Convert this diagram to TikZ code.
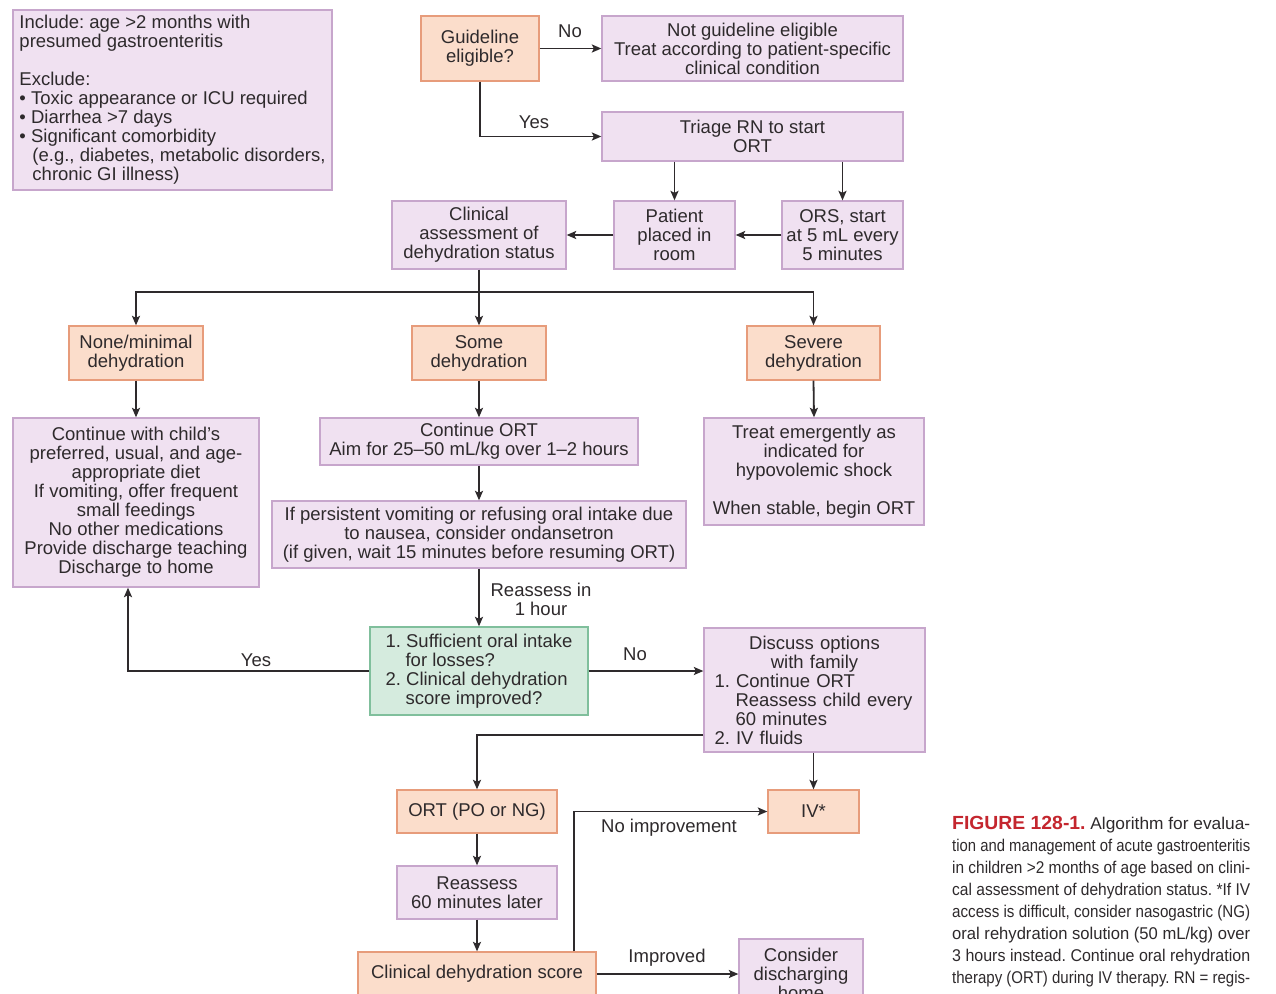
\documentclass[tikz,border=0pt]{standalone}
\usepackage{fontspec}
\setmainfont{Liberation Sans}
\usepackage{graphicx}
\usetikzlibrary{arrows.meta}
\definecolor{pfill}{HTML}{F0E1F1}
\definecolor{pdraw}{HTML}{C7A6CC}
\definecolor{ofill}{HTML}{FBDDCB}
\definecolor{odraw}{HTML}{E79C7B}
\definecolor{gfill}{HTML}{D5EBDE}
\definecolor{gdraw}{HTML}{80BF9C}
\definecolor{txt}{HTML}{2E2A2C}
\definecolor{capred}{HTML}{C4262E}
\newcommand\mybox[7]{\node[#2, minimum width={(#5-#3)*1pt}, minimum height={(#6-#4)*1pt}] (#1) at ({(#3+#5)/2},{(#4+#6)/2}) {#7};}
\newcommand\capfont{\fontsize{17}{22}\selectfont}
\frenchspacing
\begin{document}
\frenchspacing
\begin{tikzpicture}[x=1pt,y=-1pt,
  font=\frenchspacing\fontsize{18.5}{19}\selectfont, text=txt,
  bx/.style={draw, line width=1.3pt, inner sep=0pt, align=center},
  pb/.style={bx, fill=pfill, draw=pdraw},
  ob/.style={bx, fill=ofill, draw=odraw},
  gb/.style={bx, fill=gfill, draw=gdraw},
  arr/.style={line width=1.8pt, draw=txt, -{Stealth[length=9.5pt,width=8pt,inset=2pt]}},
  ln/.style={line width=1.8pt, draw=txt},
  lbl/.style={inner sep=0pt, align=center},
  capl/.style={anchor=base west, inner sep=0pt}]
\useasboundingbox (0,0) rectangle (1276,993);
\fill[white] (0,0) rectangle (1276,993);
\clip (0,0) rectangle (1276,993);

% boxes
\node[pb, align=left, inner sep=0pt, minimum width=319pt, minimum height=180pt] (incl) at (172.5,100) {Include: age >2 months with\\presumed gastroenteritis\\[19pt]Exclude:\\• Toxic appearance or ICU required\\• Diarrhea >7 days\\• Significant comorbidity\\\hspace*{13pt}(e.g., diabetes, metabolic disorders,\\\hspace*{13pt}chronic GI illness)};
\mybox{guide}{ob}{421}{16}{539}{81}{Guideline\\eligible?}
\mybox{notel}{pb}{602}{16}{903}{81}{Not guideline eligible\\Treat according to patient-specific\\clinical condition}
\mybox{triage}{pb}{602}{112}{903}{161}{Triage RN to start\\ORT}
\mybox{clin}{pb}{392}{201}{566}{269}{Clinical\\assessment of\\dehydration status}
\mybox{patient}{pb}{614}{201}{735}{269}{Patient\\placed in\\room}
\mybox{ors}{pb}{782}{201}{903}{269}{ORS, start\\at 5 mL every\\5 minutes}
\mybox{none}{ob}{69}{326}{203}{380}{None/minimal\\dehydration}
\mybox{some}{ob}{412}{326}{546}{380}{Some\\dehydration}
\mybox{severe}{ob}{747}{326}{880}{380}{Severe\\dehydration}
\mybox{cont}{pb}{13}{418}{259}{587}{Continue with child's\\preferred, usual, and age-\\appropriate diet\\If vomiting, offer frequent\\small feedings\\No other medications\\Provide discharge teaching\\Discharge to home}
\mybox{cort}{pb}{320}{418}{638}{465}{Continue ORT\\Aim for 25--50 mL/kg over 1--2 hours}
\mybox{treat}{pb}{704}{418}{924}{525}{Treat emergently as\\indicated for\\hypovolemic shock\\[19pt]When stable, begin ORT}
\mybox{persist}{pb}{272}{501}{686}{568}{If persistent vomiting or refusing oral intake due\\to nausea, consider ondansetron\\(if given, wait 15 minutes before resuming ORT)}
\mybox{green}{gb, align=left}{370}{627}{588}{715}{1. Sufficient oral intake\\\hspace*{20pt}for losses?\\2. Clinical dehydration\\\hspace*{20pt}score improved?}
\mybox{disc}{pb, align=left, text width=200pt}{704}{628}{925}{752}{\makebox[\linewidth]{Discuss options}\\\makebox[\linewidth]{with family}\\1. Continue ORT\\\hspace*{21pt}Reassess child every\\\hspace*{21pt}60 minutes\\2. IV fluids}
\mybox{ortpo}{ob}{397}{790}{557}{833}{ORT (PO or NG)}
\mybox{iv}{ob}{768}{790}{859}{833}{IV*}
\mybox{reass}{pb}{397}{866}{557}{919}{Reassess\\60 minutes later}
\mybox{score}{ob}{358}{952}{596}{996}{Clinical dehydration score}
\mybox{consider}{pb}{739}{939}{863}{1009}{Consider\\discharging\\home}

% connectors
\draw[arr] (guide.east) -- (notel.west);
\draw[arr] (guide.south) |- (triage.west);
\draw[arr] (triage.south -| patient.north) -- (patient.north);
\draw[arr] (triage.south -| ors.north) -- (ors.north);
\draw[arr] (ors.west) -- (patient.east);
\draw[arr] (patient.west) -- (clin.east);
\coordinate (brlevel) at (0,292);
\coordinate (br) at (clin.south |- brlevel);
\draw[ln] (clin.south) -- (br);
\draw[arr] (br) -| (none.north);
\draw[arr] (br) -| (severe.north);
\draw[arr] (br) -- (some.north);
\draw[arr] (none.south) -- (cont.north);
\draw[arr] (some.south) -- (cort.north);
\draw[arr] (severe.south) -- (treat.north);
\draw[arr] (cort.south) -- (persist.north);
\draw[arr] (persist.south) -- (green.north);
\draw[arr] (green.west) -| ([xshift=-8pt]cont.south);
\draw[arr] (green.east) -- (green.east -| disc.west);
\draw[arr] ([yshift=18pt]disc.south west) -| (ortpo.north);
\draw[arr] (disc.south -| iv.north) -- (iv.north);
\draw[arr] (ortpo.south) -- (reass.north);
\draw[arr] (reass.south) -- (score.north);
\draw[arr] ([xshift=97pt]score.north) |- (iv.west);
\draw[arr] (score.east) -- (score.east -| consider.west);

% labels
\node[lbl] (lno1) at (570,31) {No};
\node[lbl] (lyes1) at (534,122) {Yes};
\node[lbl] (lreass) at (541,599.5) {Reassess in\\1 hour};
\node[lbl] (lyes2) at (256,660) {Yes};
\node[lbl] (lno2) at (635,654) {No};
\node[lbl] (lnoimp) at (669,828) {No improvement};
\node[lbl] (limp) at (667,958) {Improved};

% caption
\node[capl] (cap1) at (952,829) {\resizebox{298pt}{\height}{\capfont{\fontsize{19}{22}\selectfont\bfseries\color{capred}FIGURE 128-1.} Algorithm for evalua-}};
\node[capl] (cap2) at (952,851) {\resizebox{298pt}{\height}{\capfont tion and management of acute gastroenteritis}};
\node[capl] (cap3) at (952,873) {\resizebox{298pt}{\height}{\capfont in children >2 months of age based on clini-}};
\node[capl] (cap4) at (952,895) {\resizebox{298pt}{\height}{\capfont cal assessment of dehydration status. *If IV}};
\node[capl] (cap5) at (952,917) {\resizebox{298pt}{\height}{\capfont access is difficult, consider nasogastric (NG)}};
\node[capl] (cap6) at (952,939) {\resizebox{298pt}{\height}{\capfont oral rehydration solution (50 mL/kg) over}};
\node[capl] (cap7) at (952,961) {\resizebox{298pt}{\height}{\capfont 3 hours instead. Continue oral rehydration}};
\node[capl] (cap8) at (952,983) {\resizebox{298pt}{\height}{\capfont therapy (ORT) during IV therapy. RN = regis-}};
\end{tikzpicture}
\end{document}
